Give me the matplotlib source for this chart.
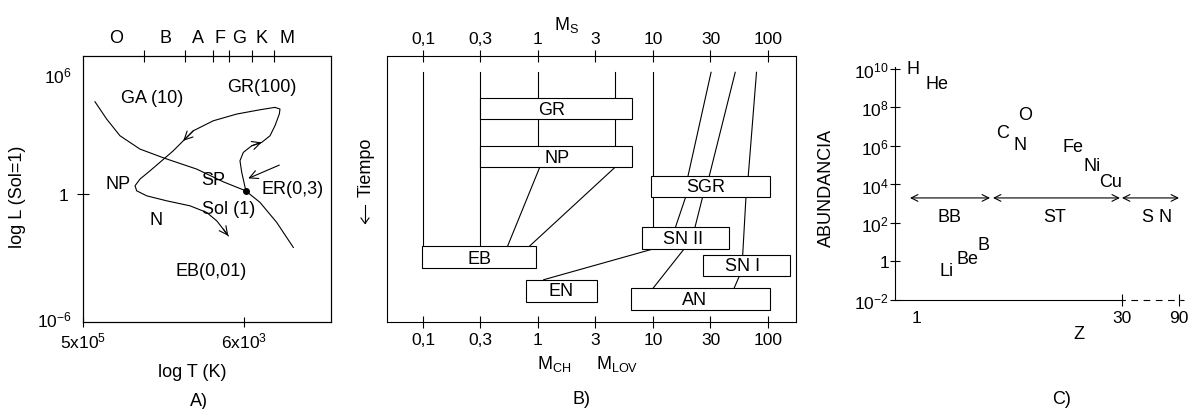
import matplotlib
matplotlib.use('Agg')
import matplotlib.pyplot as plt

plt.rcParams['font.family'] = ['Liberation Sans', 'DejaVu Sans']
plt.rcParams['mathtext.fontset'] = 'custom'
plt.rcParams['mathtext.rm'] = 'Liberation Sans'
plt.rcParams['mathtext.it'] = 'Liberation Sans:italic'
plt.rcParams['mathtext.bf'] = 'Liberation Sans:bold'
plt.rcParams['axes.linewidth'] = 0.8

W, H = 1188, 410
FS = 13
TFS = 12.5
LW = 0.8
INK = 'black'

# ---------------- Panel A: HR diagram (x = log T [K], y = log L/Lsun)
spec_bounds = [4.973, 4.484, 4.151, 3.960, 3.686, 3.424]
spec_letter_pos = [5.307, 4.711, 4.329, 4.067, 3.841, 3.567, 3.269]
spec_letters = ['O', 'B', 'A', 'F', 'G', 'K', 'M']
a_xticks = [5.70, 3.78]
a_xticklabels = [r'$\mathregular{5x10^{5}}$', r'$\mathregular{6x10^{3}}$']
ms_logT = [5.557, 5.418, 5.259, 5.021, 4.723, 4.345, 4.028, 3.761, 3.590, 3.391, 3.193]
ms_logL = [4.333, 3.521, 2.737, 2.113, 1.676, 1.174, 0.577, 0.155, -0.390, -1.329, -2.502]
track_logT = [3.761, 3.781, 3.808, 3.829, 3.789, 3.689, 3.570, 3.471, 3.412, 3.360,
              3.352, 3.412, 3.590, 3.868, 4.147, 4.385, 4.505, 4.624, 4.762, 4.901,
              5.021, 5.080, 5.060, 4.941, 4.702, 4.425, 4.226, 4.106, 4.028, 3.968]
track_logL = [0.188, 0.549, 1.019, 1.563, 1.958, 2.268, 2.427, 2.737, 3.207, 3.756,
              3.991, 4.070, 3.958, 3.756, 3.441, 2.972, 2.502, 2.033, 1.563, 1.094,
              0.704, 0.390, 0.155, -0.080, -0.315, -0.549, -0.859, -1.254, -1.643, -1.958]
track_arrow_idx = [6, 16, 29]
er_logT = [3.360, 3.730]
er_logL = [1.362, 0.737]
sun_logT, sun_logL = 3.761, 0.155
a_labels = ['GA (10)', 'GR(100)', 'NP', 'SP', 'ER(0,3)', 'Sol (1)', 'N', 'EB(0,01)']
a_label_T = [4.878, 3.567, 5.283, 4.151, 3.197, 3.960, 4.830, 4.174]
a_label_L = [4.554, 5.070, 0.516, 0.704, 0.282, -0.657, -1.174, -3.568]

# ---------------- Panel B: fate vs. mass (x = mass index, y = time, downwards)
mass_labels = ['0,1', '0,3', '1', '3', '10', '30', '100']
box_names = ['GR', 'NP', 'EB', 'EN', 'SGR', 'SN II', 'SN I', 'AN']
box_left = [1.0, 1.0, -0.012, 1.79, 3.965, 3.803, 4.864, 3.612]
box_right = [3.64, 3.64, 1.965, 3.03, 6.035, 5.322, 6.383, 6.035]
box_top = [42.0, 90.3, 190.3, 223.7, 119.7, 171.3, 199.0, 232.3]
box_bottom = [63.3, 111.3, 212.3, 246.0, 140.7, 193.0, 220.3, 253.7]
box_text_x = [2.238, 2.325, 0.979, 2.40, 4.922, 4.517, 5.553, 4.718]
box_text_t = [53.7, 101.3, 202.3, 235.0, 130.7, 182.5, 210.0, 243.7]
# track segments: (x0, t0, x1, t1)
b_segments = [
    (0.0, 16.3, 0.0, 190.3),
    (1.0, 16.3, 1.0, 190.3),
    (2.0, 16.3, 2.0, 42.0), (2.0, 63.3, 2.0, 90.3),
    (3.34, 16.3, 3.34, 42.0), (3.34, 63.3, 3.34, 90.3),
    (4.0, 16.3, 4.0, 119.7), (4.0, 140.7, 4.0, 171.3),
    (2.03, 111.3, 1.47, 190.3), (3.34, 111.3, 1.85, 190.3),
    (4.0, 193.0, 2.10, 223.7),
    (5.01, 16.3, 4.61, 119.7), (4.57, 140.7, 4.39, 171.3), (4.54, 193.0, 4.0, 232.3),
    (5.43, 16.3, 4.98, 119.7), (4.864, 140.7, 4.73, 171.3),
    (5.80, 16.3, 5.657, 119.7), (5.617, 140.7, 5.56, 199.0), (5.50, 220.3, 5.41, 232.3),
]

# ---------------- Panel C: abundances (x = Z position, y = log abundance)
c_yticks = [-2, 0, 2, 4, 6, 8, 10]
c_yticklabels = [r'$\mathregular{10^{-2}}$', '1', r'$\mathregular{10^{2}}$',
                 r'$\mathregular{10^{4}}$', r'$\mathregular{10^{6}}$',
                 r'$\mathregular{10^{8}}$', r'$\mathregular{10^{10}}$']
c_xticks = [1, 30, 38]
c_xticklabels = ['1', '30', '90']
elements = ['H', 'He', 'O', 'C', 'N', 'Fe', 'Ni', 'Cu', 'B', 'Be', 'Li']
elem_x = [0.48, 3.79, 16.28, 13.16, 15.57, 23.07, 25.75, 28.44, 10.34, 8.21, 5.24]
elem_logA = [10.0, 9.22, 7.61, 6.68, 6.10, 5.95, 5.01, 4.13, 0.86, 0.18, -0.49]
phase_names = ['BB', 'ST', 'S N']
phase_start = [0.01, 11.75, 29.99]
phase_end = [11.33, 29.7, 38.06]
phase_arrow_logA = 3.30
phase_label_x = [5.53, 20.4, 34.9]
phase_label_logA = 2.36


def frac(x0, y0, x1, y1):
    return [x0 / W, 1 - y1 / H, (x1 - x0) / W, (y1 - y0) / H]


def ftext(x, y, s, **kw):
    kw.setdefault('fontsize', FS)
    kw.setdefault('ha', 'center')
    kw.setdefault('va', 'center')
    fig.text(x / W, 1 - y / H, s, color=INK, **kw)


fig = plt.figure(figsize=(W / 100, H / 100), dpi=100)
fig.patch.set_facecolor('white')

# ======== Panel A
axA = fig.add_axes(frac(83, 57, 331, 323))
axA.set_xlim(5.70, 2.744)
axA.set_ylim(-6.0, 6.48)
axA.plot(ms_logT, ms_logL, color=INK, lw=LW)
axA.plot(track_logT, track_logL, color=INK, lw=LW)
for i in track_arrow_idx:
    axA.annotate('', xy=(track_logT[i], track_logL[i]),
                 xytext=(track_logT[i - 1], track_logL[i - 1]),
                 arrowprops=dict(arrowstyle='->,head_length=0.5,head_width=0.25',
                                 lw=LW, color=INK, shrinkA=0, shrinkB=0,
                                 mutation_scale=12))
axA.annotate('', xy=(er_logT[1], er_logL[1]), xytext=(er_logT[0], er_logL[0]),
             arrowprops=dict(arrowstyle='->,head_length=0.5,head_width=0.25',
                             lw=LW, color=INK, shrinkA=0, shrinkB=0, mutation_scale=12))
axA.plot([sun_logT], [sun_logL], 'o', color=INK, ms=4)
for s, x, y in zip(a_labels, a_label_T, a_label_L):
    axA.text(x, y, s, fontsize=FS, ha='center', va='center', color=INK)
axA.set_xticks(a_xticks, a_xticklabels)
axA.tick_params(axis='x', direction='inout', length=7.2, width=LW, pad=2.5, labelsize=TFS)
axA.xaxis.get_major_ticks()[0].tick1line.set_visible(False)
axA.set_yticks([0], ['1'])
axA.tick_params(axis='y', direction='inout', length=8.6, width=LW, pad=6.5, labelsize=TFS)
axT = axA.twiny()
axT.set_xlim(axA.get_xlim())
axT.set_xticks(spec_bounds, [''] * len(spec_bounds))
axT.set_xticks(spec_letter_pos, spec_letters, minor=True)
axT.tick_params(axis='x', which='major', direction='inout', length=8.0, width=LW)
axT.tick_params(axis='x', which='minor', length=0, pad=7.5, labelsize=FS)
ftext(72, 76, r'$\mathregular{10^{6}}$', ha='right', fontsize=TFS)
ftext(72, 320, r'$\mathregular{10^{-6}}$', ha='right', fontsize=TFS)
ftext(18, 197, 'log L (Sol=1)', rotation=90)
ftext(192, 373, 'log T (K)')
ftext(199, 402, 'A)')

# ======== Panel B
axB = fig.add_axes(frac(387, 57, 796, 323))
axB.set_xlim(-0.626, 6.487)
axB.set_ylim(266, 0)
for x0, t0, x1, t1 in b_segments:
    axB.plot([x0, x1], [t0, t1], color=INK, lw=LW, zorder=2)
axB.barh([(a + b) / 2 for a, b in zip(box_top, box_bottom)],
         [r - l for l, r in zip(box_left, box_right)],
         left=box_left,
         height=[b - a for a, b in zip(box_top, box_bottom)],
         color='white', edgecolor=INK, linewidth=LW, zorder=3)
for s, x, t in zip(box_names, box_text_x, box_text_t):
    axB.text(x, t, s, fontsize=FS, ha='center', va='center', color=INK, zorder=4)
axB.set_xticks(range(len(mass_labels)), mass_labels)
axB.set_yticks([])
axB.tick_params(axis='x', top=True, labeltop=True, bottom=True, labelbottom=True,
                direction='inout', length=8.6, width=LW, pad=2.8, labelsize=TFS)
ftext(567, 25, r'$\mathregular{M_{S}}$')
ftext(554, 364, r'$\mathregular{M_{CH}}$')
ftext(617, 364, r'$\mathregular{M_{LOV}}$')
ftext(366, 167, 'Tiempo', rotation=90)
fig.add_artist(plt.Line2D([365 / W, 365 / W], [1 - 206 / H, 1 - 224 / H],
                          color=INK, lw=LW, transform=fig.transFigure))
fig.add_artist(plt.Line2D([361 / W, 365 / W, 369 / W],
                          [1 - 219 / H, 1 - 224.5 / H, 1 - 219 / H],
                          color=INK, lw=LW, transform=fig.transFigure))
ftext(582, 400, 'B)')

# ======== Panel C
axC = fig.add_axes(frac(895, 68, 1188, 301))
axC.set_xlim(-2.11, 39.33)
axC.set_ylim(-2, 10.1)
axC.patch.set_alpha(0)
for sp in ['top', 'right']:
    axC.spines[sp].set_visible(False)
axC.spines['bottom'].set_bounds(-2.11, 30)
axC.plot([30, 38.75], [-2, -2], color=INK, lw=LW, ls=(3.0, (6, 5)), clip_on=False)
axC.set_yticks(c_yticks, c_yticklabels)
axC.tick_params(axis='y', direction='inout', length=7.2, width=LW, pad=0.8, labelsize=TFS)
axC.set_xticks(c_xticks, c_xticklabels)
axC.tick_params(axis='x', direction='inout', length=8.0, width=LW, pad=3.0, labelsize=TFS)
axC.xaxis.get_major_ticks()[0].tick1line.set_visible(False)
for s, x, y in zip(elements, elem_x, elem_logA):
    axC.text(x, y, s, fontsize=FS, ha='center', va='center', color=INK, clip_on=False)
for x0, x1 in zip(phase_start, phase_end):
    axC.annotate('', xy=(x1, phase_arrow_logA), xytext=(x0, phase_arrow_logA),
                 arrowprops=dict(arrowstyle='<->,head_length=0.4,head_width=0.2',
                                 lw=LW, color=INK, shrinkA=0, shrinkB=0,
                                 mutation_scale=12),
                 annotation_clip=False)
for s, x in zip(phase_names, phase_label_x):
    axC.text(x, phase_label_logA, s, fontsize=FS, ha='center', va='center', color=INK,
             clip_on=False)
ftext(826, 188, 'ABUNDANCIA', rotation=90)
ftext(1079, 335, 'Z')
ftext(1062, 400, 'C)')

fig.savefig('out.png', dpi=100, facecolor='white')
